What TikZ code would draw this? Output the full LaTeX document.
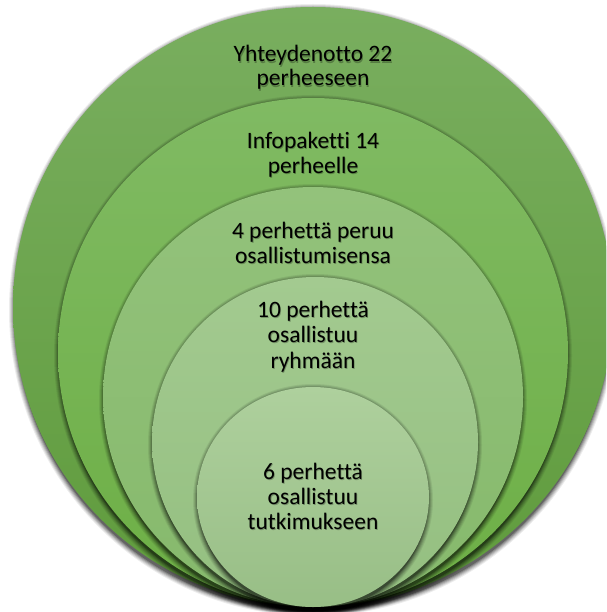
\documentclass[tikz,border=0pt]{standalone}
\usepackage{fontspec}
\setmainfont[Ligatures={NoCommon}]{Carlito}
\definecolor{c1t}{HTML}{79AE5F}\definecolor{c1b}{HTML}{5F9B3C}
\definecolor{c2t}{HTML}{80BA63}\definecolor{c2b}{HTML}{6DAF45}
\definecolor{c3t}{HTML}{93C27B}\definecolor{c3b}{HTML}{86B96C}
\definecolor{c4t}{HTML}{A3CA90}\definecolor{c4b}{HTML}{94BF80}
\definecolor{c5t}{HTML}{AED09D}\definecolor{c5b}{HTML}{98BE86}
\newcommand\ringdisk[6]{%
  \foreach \k/\o in {6/0.07,5/0.09,4/0.11,3/0.14,2/0.18,1/0.25}{%
    \fill[black,opacity=\o] (#1,#2+3) ellipse [x radius=#3+\k-2, y radius=#4+\k];}%
  \shade[top color=#5,bottom color=#6] (#1,#2) ellipse [x radius=#3, y radius=#4];}
\newcommand\lbltext[4]{%
  \node[lbl,text=black,opacity=0.28] (#1s) at (#2+0.8,#3+1.2) {#4};%
  \node[lbl] (#1) at (#2,#3) {#4};}
\begin{document}
\begin{tikzpicture}[x=1pt,y=-1pt,
  lbl/.style={anchor=base, font=\fontsize{23.5}{25}\selectfont, text=black, inner sep=0pt}]
\useasboundingbox (0,0) rectangle (606,612);
\clip (0,0) rectangle (606,612);
\fill[white] (0,0) rectangle (606,612);
\ringdisk{313}{307}{300}{300}{c1t}{c1b}
\ringdisk{313}{352.5}{255}{254.5}{c2t}{c2b}
\ringdisk{313}{397}{210}{210}{c3t}{c3b}
\ringdisk{315}{442}{163}{165}{c4t}{c4b}
\ringdisk{313}{497}{116}{110}{c5t}{c5b}
\lbltext{a1}{313}{62}{Yhteydenotto 22}
\lbltext{a2}{313}{86}{perheeseen}
\lbltext{b1}{313}{148.5}{Infopaketti 14}
\lbltext{b2}{313}{173.5}{perheelle}
\lbltext{c1}{313}{238}{4 perhettä peruu}
\lbltext{c2}{313}{263}{osallistumisensa}
\lbltext{d1}{313}{317}{10 perhettä}
\lbltext{d2}{313}{342.5}{osallistuu}
\lbltext{d3}{313}{368}{ryhmään}
\lbltext{e1}{313}{479}{6 perhettä}
\lbltext{e2}{313}{504}{osallistuu}
\lbltext{e3}{313}{529.5}{tutkimukseen}
\end{tikzpicture}
\end{document}
